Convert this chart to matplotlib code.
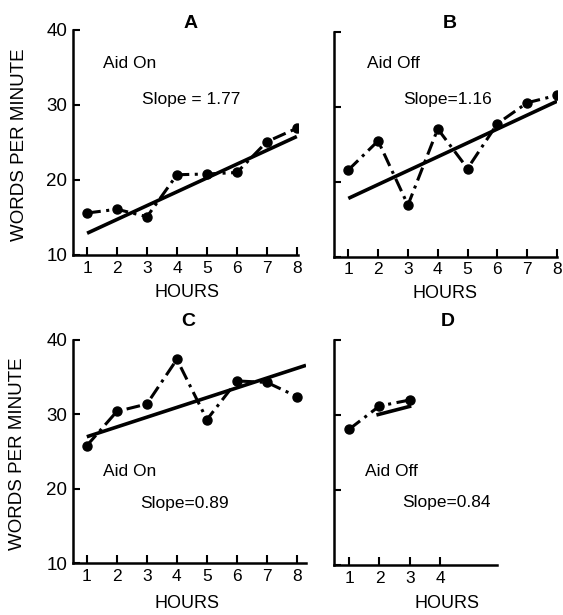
import numpy as np
import matplotlib
matplotlib.use("Agg")
import matplotlib.pyplot as plt

plt.rcParams['font.family'] = ['Liberation Sans', 'DejaVu Sans']

# words per minute by hour
hours_ab = [1, 2, 3, 4, 5, 6, 7, 8]
wpm_a = [15.6, 16.1, 15.1, 20.7, 20.8, 21.0, 25.1, 26.9]
wpm_b = [21.6, 25.5, 16.9, 27.1, 21.8, 27.8, 30.6, 31.6]
wpm_c = [25.8, 30.4, 31.4, 37.4, 29.3, 34.5, 34.3, 32.4]
hours_d = [1, 2, 3]
wpm_d = [28.1, 31.2, 32.0]

# fitted lines: (x start, x end), (y start, y end)
fit_a = ([1, 8], [12.9, 25.8])
fit_b = ([1, 8], [17.8, 30.8])
fit_c = ([1, 8.3], [27.0, 36.6])
fit_d = ([1.9, 3.05], [30.0, 31.2])

conds = ["Aid On", "Aid Off", "Aid On", "Aid Off"]
slopes = ["Slope = 1.77", "Slope=1.16", "Slope=0.89", "Slope=0.84"]
letters = ["A", "B", "C", "D"]

W, H = 563, 615
fig = plt.figure(figsize=(W / 100, H / 100), dpi=100)


def box(l, t, r, b):
    return [l / W, 1 - b / H, (r - l) / W, (b - t) / H]


panels = [
    dict(rect=box(73, 30, 298, 255), xlim=(0.53, 8.04), x=hours_ab, y=wpm_a, fit=fit_a,
         xt=hours_ab, ylab=True, txt=[(1.53, 35.6), (2.83, 30.7)], title=(191, 23.5), hrs=(187.5, 292)),
    dict(rect=box(334, 32.5, 557, 256.7), xlim=(0.52, 8.0), x=hours_ab, y=wpm_b, fit=fit_b,
         xt=hours_ab, ylab=False, txt=[(1.63, 35.8), (2.84, 31.1)], title=(450, 23), hrs=(445, 293)),
    dict(rect=box(73, 340, 306, 563.3), xlim=(0.54, 8.3), x=hours_ab, y=wpm_c, fit=fit_c,
         xt=hours_ab, ylab=True, txt=[(1.54, 22.3), (2.78, 18.1)], title=(188, 321.5), hrs=(187.5, 603)),
    dict(rect=box(334.3, 340, 496.7, 565), xlim=(0.51, 5.87), x=hours_d, y=wpm_d, fit=fit_d,
         xt=[1, 2, 3, 4], ylab=False, txt=[(1.53, 22.4), (2.75, 18.3)], title=(447.5, 321.5), hrs=(446.7, 603)),
]

for i, p in enumerate(panels):
    ax = fig.add_axes(p["rect"])
    ax.plot(p["fit"][0], p["fit"][1], color="black", lw=2.6, solid_capstyle="butt")
    ax.plot(p["x"], p["y"], color="black", lw=2.2, ls=(0, (4.5, 1.8, 1.0, 1.8)),
            marker="o", ms=6.5, mec="black", mfc="black")
    ax.set_xlim(*p["xlim"])
    ax.set_ylim(10, 40)
    ax.set_xticks(p["xt"])
    ax.set_yticks([10, 20, 30, 40])
    for s in ["top", "right"]:
        ax.spines[s].set_visible(False)
    for s in ["left", "bottom"]:
        ax.spines[s].set_linewidth(1.8)
    ax.tick_params(axis="x", direction="in", length=6, width=1.5, pad=4, labelsize=12.5)
    ax.tick_params(axis="y", direction="in", length=5, width=1.5, pad=4, labelsize=13.5)
    if not p["ylab"]:
        ax.tick_params(axis="y", labelleft=False)
    else:
        ax.set_ylabel("WORDS PER MINUTE", fontsize=13.5, labelpad=4)
        ax.yaxis.set_label_coords(-0.2, 0.49)
    ax.text(p["txt"][0][0], p["txt"][0][1], conds[i], fontsize=12.5, va="center", ha="left")
    ax.text(p["txt"][1][0], p["txt"][1][1], slopes[i], fontsize=12.5, va="center", ha="left")
    fig.text(p["title"][0] / W, 1 - p["title"][1] / H, letters[i], fontsize=14,
             fontweight="bold", ha="center", va="center")
    fig.text(p["hrs"][0] / W, 1 - p["hrs"][1] / H, "HOURS", fontsize=13,
             ha="center", va="center")

fig.savefig("out.png", dpi=100)
